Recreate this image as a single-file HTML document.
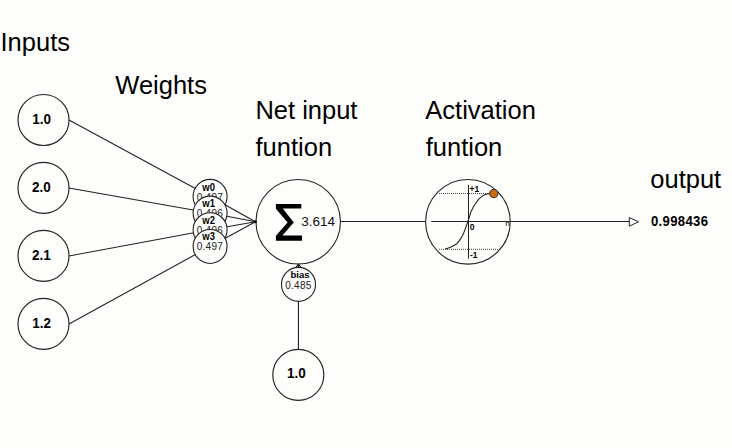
<!DOCTYPE html>
<html><head><meta charset="utf-8">
<style>
html,body{margin:0;padding:0;background:#fdfdfb;}
svg{display:block;}
text{font-family:"Liberation Sans",sans-serif;}
</style></head>
<body>
<svg width="732" height="448" viewBox="0 0 732 448">
<rect width="732" height="448" fill="#fdfdfb"/>
<!-- headings -->
<g font-size="25.5" fill="#000">
<text x="0.5" y="51">Inputs</text>
<text x="115.3" y="94">Weights</text>
<text x="255.4" y="119">Net input</text>
<text x="255.5" y="156">funtion</text>
<text x="425.3" y="119">Activation</text>
<text x="425.7" y="156">funtion</text>
<text x="650.3" y="188">output</text>
</g>
<!-- lines -->
<g stroke="#222" stroke-width="1.1" fill="none">
<line x1="69" y1="119.95" x2="210.1" y2="196.4"/>
<line x1="69" y1="187.93" x2="210.1" y2="213.08"/>
<line x1="69" y1="255.92" x2="210.1" y2="229.76"/>
<line x1="69" y1="323.9" x2="210.1" y2="246.45"/>
<line x1="210.1" y1="196.4" x2="255.5" y2="221.8"/>
<line x1="210.1" y1="213.08" x2="255.5" y2="221.8"/>
<line x1="210.1" y1="229.76" x2="255.5" y2="221.8"/>
<line x1="210.1" y1="246.45" x2="255.5" y2="221.8"/>
<line x1="298.45" y1="264" x2="298.45" y2="349.4"/>
<line x1="340.5" y1="221.5" x2="425.6" y2="221.5"/>
<line x1="431.3" y1="221.5" x2="629.5" y2="221.5"/>
</g>
<!-- input circles -->
<g stroke="#222" stroke-width="1.15" fill="#fdfdfb">
<circle cx="43.5" cy="119.95" r="25.5"/>
<circle cx="43.5" cy="187.93" r="25.5"/>
<circle cx="43.5" cy="255.92" r="25.5"/>
<circle cx="43.5" cy="323.9" r="25.5"/>
<circle cx="298.3" cy="374.9" r="25.5"/>
</g>
<g font-size="14.5" font-weight="bold" fill="#000" text-anchor="middle">
<text transform="translate(41.6 123.8) scale(0.93 1)">1.0</text>
<text transform="translate(41.4 192.3) scale(0.93 1)">2.0</text>
<text transform="translate(41.4 260.3) scale(0.93 1)">2.1</text>
<text transform="translate(41.6 328.2) scale(0.93 1)">1.2</text>
<text transform="translate(296.4 378.2) scale(0.93 1)">1.0</text>
</g>
<!-- weight circles -->
<circle cx="210.1" cy="196.4" r="17" stroke="#222" stroke-width="1.1" fill="#fdfdfb"/>
<text transform="translate(208.6 190.8) scale(0.9 1)" font-size="10.5" font-weight="bold" text-anchor="middle">w0</text>
<text x="209.9" y="200.8" font-size="10" letter-spacing="0.25" fill="#222" text-anchor="middle">0.497</text>
<circle cx="210.1" cy="213.08" r="17" stroke="#222" stroke-width="1.1" fill="#fdfdfb"/>
<text transform="translate(208.6 206.8) scale(0.9 1)" font-size="10.5" font-weight="bold" text-anchor="middle">w1</text>
<text x="209.9" y="216.8" font-size="10" letter-spacing="0.25" fill="#222" text-anchor="middle">0.496</text>
<circle cx="210.1" cy="229.76" r="17" stroke="#222" stroke-width="1.1" fill="#fdfdfb"/>
<text transform="translate(208.6 223.8) scale(0.9 1)" font-size="10.5" font-weight="bold" text-anchor="middle">w2</text>
<text x="209.9" y="233.8" font-size="10" letter-spacing="0.25" fill="#222" text-anchor="middle">0.496</text>
<circle cx="210.1" cy="246.45" r="17" stroke="#222" stroke-width="1.1" fill="#fdfdfb"/>
<text transform="translate(208.6 239.8) scale(0.9 1)" font-size="10.5" font-weight="bold" text-anchor="middle">w3</text>
<text x="209.9" y="249.8" font-size="10" letter-spacing="0.25" fill="#222" text-anchor="middle">0.497</text>
<!-- sum circle -->
<circle cx="298.2" cy="221.8" r="42.25" stroke="#222" stroke-width="1.1" fill="#fdfdfb"/>
<circle cx="255.4" cy="221.8" r="1.5" fill="#000"/>
<path d="M275.9 204.1 L301.3 204.1 L301.3 208.6 L282.8 208.6 L293.8 222.4 L282.4 235.4 L302 235.4 L302 240.8 L275.9 240.8 L275.9 235.8 L287.6 222.4 L275.9 208.8 Z" fill="#000"/>
<text x="301.3" y="225.9" font-size="13.5" fill="#111">3.614</text>
<!-- bias -->
<path d="M295 268.6 L298.5 264.2 L302 268.6" fill="none" stroke="#111" stroke-width="1.1"/>
<circle cx="298.5" cy="284.4" r="17" stroke="#222" stroke-width="1.1" fill="#fdfdfb"/>
<text x="300" y="277.9" font-size="9.5" font-weight="bold" text-anchor="middle">bias</text>
<text x="298.4" y="288.5" font-size="10" letter-spacing="0.25" fill="#222" text-anchor="middle">0.485</text>
<!-- activation -->
<circle cx="467.9" cy="221.8" r="42.3" stroke="#222" stroke-width="1.1" fill="#fdfdfb"/>
<g stroke="#222" stroke-width="1.1" fill="none">
<line x1="431.3" y1="221.5" x2="510" y2="221.5"/>
<line x1="468.5" y1="184.8" x2="468.5" y2="258.7" stroke-width="1"/>
<path d="M445.2 249 L447.2 248.4 L452.1 246.5 L456.9 243.7 L460.1 239.7 L463.3 234.1 L465.7 227.6 L467.7 222 L469.2 217.7 L470.8 212.1 L474 205.7 L478.9 198.9 L482.9 195.6 L486.9 194 L489.7 193.6" stroke-linejoin="round"/>
</g>
<g stroke="#3a3a3a" stroke-width="1" stroke-dasharray="1 1" fill="none">
<line x1="439" y1="193.5" x2="490" y2="193.5"/>
<line x1="439" y1="249.3" x2="499.5" y2="249.3"/>
</g>
<circle cx="493.8" cy="193.5" r="4.1" fill="#d06c10" stroke="#222" stroke-width="0.9"/>
<g font-size="8.5" font-weight="bold" fill="#000">
<text x="469.6" y="192">+1</text>
<text x="469.7" y="230">0</text>
<text x="469.9" y="258">-1</text>
<text x="505.2" y="226" font-size="8" font-weight="normal">n</text>
</g>
<!-- output arrow -->
<path d="M629.3 217.6 L638.5 221.8 L629.3 226.2 Z" fill="#fdfdfb" stroke="#222" stroke-width="1"/>
<text transform="translate(651 225.5) scale(0.95 1)" font-size="13.8" font-weight="bold" letter-spacing="0.35">0.998436</text>
</svg>
</body></html>
